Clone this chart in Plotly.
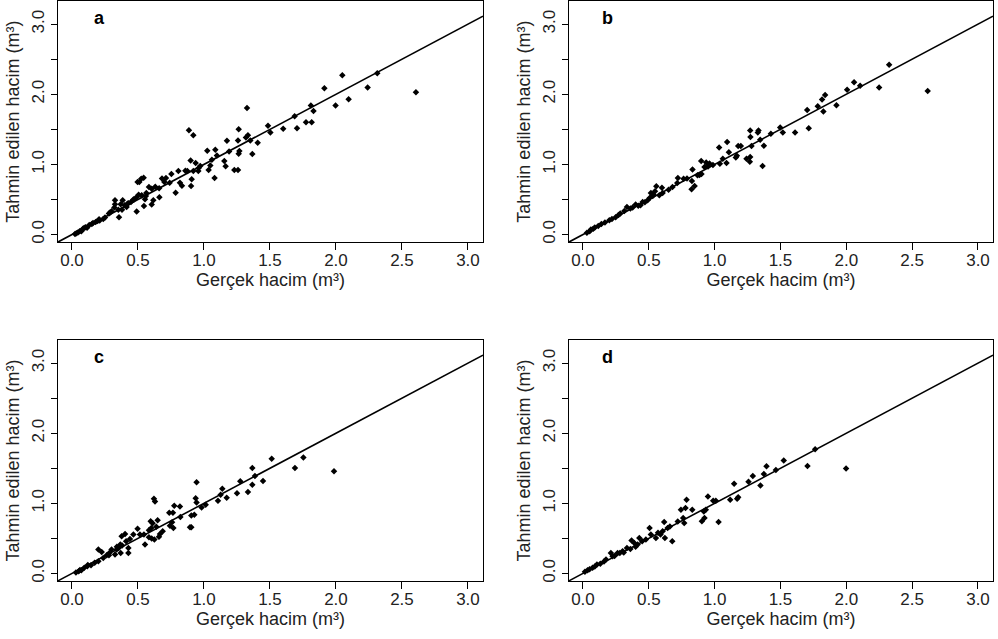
import plotly.graph_objects as go

# ---------------- data ----------------
xa = [2.606, 2.313, 2.24, 2.048, 2.096, 1.997, 1.912, 1.81, 1.83, 1.816, 1.773, 1.705, 1.687, 1.60,
      1.503, 1.485, 1.407, 1.366, 1.351, 1.333, 1.318, 1.326, 1.263, 1.258, 1.268, 1.263, 1.258, 1.23,
      1.19, 1.174, 1.164, 1.154, 1.098, 1.086, 1.08, 1.06, 1.048, 1.035, 1.025, 0.972, 0.957, 0.937,
      0.919, 0.886, 0.899, 0.919, 0.907, 0.902, 0.874, 0.859, 0.818, 0.833, 0.806, 0.785, 0.753, 0.712,
      0.70, 0.682, 0.662, 0.631, 0.604, 0.583, 0.604, 0.616, 0.563, 0.545, 0.553, 0.543, 0.525, 0.51,
      0.497, 0.505, 0.528, 0.49, 0.49, 0.465, 0.447, 0.427, 0.414, 0.399, 0.384, 0.379, 0.369, 0.356,
      0.351, 0.326, 0.326, 0.321, 0.30, 0.288, 0.25, 0.237, 0.205, 0.194, 0.179, 0.159, 0.131, 0.114,
      0.101, 0.083, 0.071, 0.058, 0.045, 0.033, 0.023, 0.21, 0.15, 0.09, 0.28, 0.42, 0.47, 0.56, 0.66,
      0.74, 0.96]
ya = [2.028, 2.30, 2.095, 2.27, 1.93, 1.84, 2.085, 1.84, 1.76, 1.60, 1.60, 1.517, 1.687, 1.507,
      1.455, 1.55, 1.308, 1.147, 1.341, 1.417, 1.384, 1.806, 1.502, 1.341, 1.19, 1.152, 0.919, 0.919,
      1.185, 1.336, 0.972, 1.05, 1.128, 1.209, 0.806, 1.066, 0.986, 0.919, 1.194, 0.976, 0.905, 1.019,
      1.417, 1.488, 1.057, 0.905, 0.787, 0.692, 0.905, 0.91, 0.739, 0.697, 0.905, 0.597, 0.863, 0.806,
      0.749, 0.80, 0.531, 0.682, 0.654, 0.678, 0.427, 0.488, 0.592, 0.408, 0.502, 0.81, 0.796, 0.749,
      0.749, 0.569, 0.559, 0.327, 0.536, 0.498, 0.464, 0.445, 0.393, 0.417, 0.488, 0.355, 0.431, 0.246,
      0.355, 0.488, 0.431, 0.384, 0.332, 0.313, 0.242, 0.223, 0.218, 0.194, 0.18, 0.166, 0.137, 0.095,
      0.104, 0.081, 0.047, 0.047, 0.028, 0.019, 0.009, 0.20, 0.15, 0.09, 0.30, 0.44, 0.50, 0.55, 0.66,
      0.74, 0.95]

xb = [2.618, 2.325, 2.249, 2.105, 2.059, 2.006, 1.925, 1.839, 1.816, 1.826, 1.783, 1.703, 1.715, 1.611,
      1.518, 1.498, 1.427, 1.374, 1.364, 1.346, 1.328, 1.333, 1.27, 1.272, 1.28, 1.27, 1.267, 1.242,
      1.199, 1.179, 1.169, 1.161, 1.108, 1.095, 1.09, 1.062, 1.034, 1.04, 0.987, 0.961, 0.936, 0.923,
      0.898, 0.90, 0.885, 0.87, 0.832, 0.848, 0.825, 0.827, 0.764, 0.721, 0.716, 0.68, 0.605, 0.60,
      0.557, 0.547, 0.534, 0.516, 0.508, 0.491, 0.453, 0.437, 0.40, 0.377, 0.334, 0.314, 0.283, 0.248,
      0.20, 0.167, 0.116, 0.078, 0.051, 0.03, 0.09, 0.14, 0.22, 0.36, 0.42, 0.47, 0.58, 0.65, 0.79,
      0.95, 0.06, 0.27, 0.53]
yb = [2.047, 2.42, 2.095, 2.123, 2.17, 2.066, 1.844, 1.99, 1.924, 1.754, 1.829, 1.777, 1.517, 1.455,
      1.455, 1.526, 1.436, 1.265, 0.976, 1.351, 1.455, 1.483, 1.483, 1.389, 1.261, 1.104, 1.038, 1.08,
      1.261, 1.261, 1.123, 1.10, 1.175, 1.318, 1.019, 1.08, 1.242, 1.009, 0.99, 1.014, 1.028, 0.962,
      1.047, 0.863, 0.848, 0.844, 0.929, 0.692, 0.645, 0.763, 0.796, 0.806, 0.735, 0.678, 0.592, 0.668,
      0.687, 0.616, 0.573, 0.592, 0.526, 0.488, 0.464, 0.417, 0.427, 0.384, 0.393, 0.336, 0.299, 0.246,
      0.204, 0.171, 0.123, 0.081, 0.047, 0.024, 0.10, 0.15, 0.22, 0.37, 0.41, 0.46, 0.56, 0.64, 0.80,
      0.97, 0.07, 0.28, 0.55]

xc = [1.985, 1.753, 1.689, 1.513, 1.447, 1.366, 1.366, 1.386, 1.333, 1.275, 1.25, 1.172, 1.139, 1.126,
      1.106, 1.013, 0.982, 0.944, 0.937, 0.944, 0.927, 0.904, 0.894, 0.904, 0.818, 0.821, 0.775, 0.765,
      0.737, 0.758, 0.742, 0.768, 0.687, 0.667, 0.659, 0.649, 0.639, 0.621, 0.629, 0.611, 0.601, 0.583,
      0.596, 0.604, 0.624, 0.583, 0.553, 0.545, 0.515, 0.497, 0.465, 0.439, 0.427, 0.427, 0.402, 0.376,
      0.366, 0.354, 0.369, 0.338, 0.326, 0.30, 0.283, 0.263, 0.237, 0.225, 0.20, 0.20, 0.172, 0.144,
      0.116, 0.093, 0.071, 0.051, 0.03, 0.38, 0.34, 0.41, 0.28, 0.12, 0.06]
yc = [1.458, 1.652, 1.505, 1.637, 1.32, 1.505, 1.264, 1.391, 1.16, 1.316, 1.145, 1.079, 1.207, 1.122,
      1.036, 0.98, 0.942, 1.302, 1.074, 1.013, 0.838, 0.828, 0.658, 0.658, 0.956, 0.805, 0.965, 0.866,
      0.866, 0.729, 0.682, 0.648, 0.601, 0.563, 0.525, 0.757, 0.667, 1.065, 1.027, 0.715, 0.648, 0.615,
      0.743, 0.497, 0.483, 0.516, 0.412, 0.554, 0.554, 0.639, 0.554, 0.492, 0.293, 0.364, 0.563, 0.53,
      0.412, 0.364, 0.293, 0.341, 0.27, 0.341, 0.293, 0.26, 0.222, 0.307, 0.341, 0.175, 0.151, 0.118,
      0.104, 0.08, 0.047, 0.033, 0.014, 0.40, 0.38, 0.46, 0.26, 0.12, 0.05]

xd = [1.998, 1.763, 1.705, 1.525, 1.465, 1.394, 1.374, 1.348, 1.29, 1.257, 1.148, 1.179, 1.171, 1.118,
      1.03, 1.009, 0.989, 0.949, 0.933, 0.923, 0.903, 0.918, 0.83, 0.787, 0.779, 0.744, 0.769, 0.761,
      0.678, 0.643, 0.617, 0.605, 0.622, 0.589, 0.506, 0.516, 0.554, 0.478, 0.428, 0.415, 0.39, 0.369,
      0.334, 0.301, 0.263, 0.212, 0.225, 0.175, 0.106, 0.132, 0.073, 0.035, 0.015, 0.45, 0.36, 0.28,
      0.24, 0.31, 0.40, 0.57, 0.66, 0.72, 0.16, 0.09, 0.05]
yd = [1.495, 1.77, 1.533, 1.609, 1.477, 1.529, 1.42, 1.254, 1.391, 1.306, 1.278, 1.088, 1.065, 1.051,
      0.734, 1.036, 1.036, 1.098, 0.909, 0.79, 0.743, 0.885, 0.909, 1.051, 0.932, 0.909, 0.719, 0.79,
      0.459, 0.648, 0.734, 0.601, 0.506, 0.554, 0.648, 0.554, 0.506, 0.483, 0.506, 0.412, 0.435, 0.469,
      0.364, 0.317, 0.293, 0.293, 0.246, 0.199, 0.128, 0.137, 0.08, 0.047, 0.024, 0.46, 0.35, 0.29,
      0.25, 0.30, 0.38, 0.58, 0.67, 0.74, 0.17, 0.10, 0.06]

panel_labels = ["a", "b", "c", "d"]
x_ticks = [0.0, 0.5, 1.0, 1.5, 2.0, 2.5, 3.0]
x_ticktext = ["0.0", "0.5", "1.0", "1.5", "2.0", "2.5", "3.0"]
y_ticks = [0.0, 0.5, 1.0, 1.5, 2.0, 2.5, 3.0]
y_ticktext = ["0.0", "", "1.0", "", "2.0", "", "3.0"]
x_title = "Gerçek hacim (m³)"
y_title = "Tahmin edilen hacim (m³)"

X_RANGE = [-0.106, 3.114]
Y_RANGE = [-0.11, 3.33]

# ---------------- layout geometry (pixels) ----------------
W, H = 998, 639
cols = [(58, 483), (569, 993)]
rows = [(1, 243), (341, 583)]

FONT = "Liberation Sans, Arial, sans-serif"
TXT = "#222222"
fig = go.Figure()

series = [(xa, ya), (xb, yb), (xc, yc), (xd, yd)]
line_ends = [max(X_RANGE[0], Y_RANGE[0]), min(X_RANGE[1], Y_RANGE[1])]

for i, (xs, ys) in enumerate(series):
    r, c = divmod(i, 2)
    n = i + 1
    xname = "x" if n == 1 else f"x{n}"
    yname = "y" if n == 1 else f"y{n}"
    fig.add_trace(go.Scatter(x=line_ends, y=line_ends, mode="lines",
                             line=dict(color="black", width=1.6),
                             xaxis=xname, yaxis=yname, showlegend=False, hoverinfo="skip"))
    fig.add_trace(go.Scatter(x=xs, y=ys, mode="markers",
                             marker=dict(symbol="diamond", size=5, color="black"),
                             xaxis=xname, yaxis=yname, showlegend=False, cliponaxis=True))
    x0, x1 = cols[c]
    y0, y1 = rows[r]
    xdom = [x0 / W, x1 / W]
    ydom = [1 - y1 / H, 1 - y0 / H]
    xkey = "xaxis" if n == 1 else f"xaxis{n}"
    ykey = "yaxis" if n == 1 else f"yaxis{n}"
    fig.layout[xkey] = dict(
        domain=xdom, anchor=yname, range=X_RANGE,
        tickvals=x_ticks, ticktext=x_ticktext,
        ticks="outside", ticklen=7, tickwidth=1, tickcolor="black",
        ticklabelstandoff=-5,
        showline=True, mirror=True, linecolor="black", linewidth=1,
        showgrid=False, zeroline=False,
        tickfont=dict(family=FONT, size=17, color=TXT),
        title=dict(text=x_title, font=dict(family=FONT, size=18, color=TXT), standoff=0),
    )
    fig.layout[ykey] = dict(
        domain=ydom, anchor=xname, range=Y_RANGE,
        tickvals=y_ticks, ticktext=y_ticktext, tickangle=-90,
        ticks="outside", ticklen=6, tickwidth=1, tickcolor="black",
        showline=True, mirror=True, linecolor="black", linewidth=1,
        showgrid=False, zeroline=False,
        tickfont=dict(family=FONT, size=17, color=TXT),
        title=dict(text=y_title, font=dict(family=FONT, size=18, color=TXT), standoff=4),
    )
    fig.add_annotation(text=f"<b>{panel_labels[i]}</b>", xref=f"{xname} domain", yref=f"{yname} domain",
                       x=(99 - x0) / (x1 - x0) if c == 0 else (607 - x0) / (x1 - x0),
                       y=1 - 17 / 242, xanchor="center", yanchor="middle", showarrow=False,
                       font=dict(family=FONT, size=18, color="black"))

fig.update_layout(width=W, height=H, margin=dict(l=0, r=0, t=0, b=0),
                  paper_bgcolor="white", plot_bgcolor="white")
fig.write_html("out.html", config={"displayModeBar": False},
               post_script="document.body.style.margin='0';document.body.style.padding='0';")
